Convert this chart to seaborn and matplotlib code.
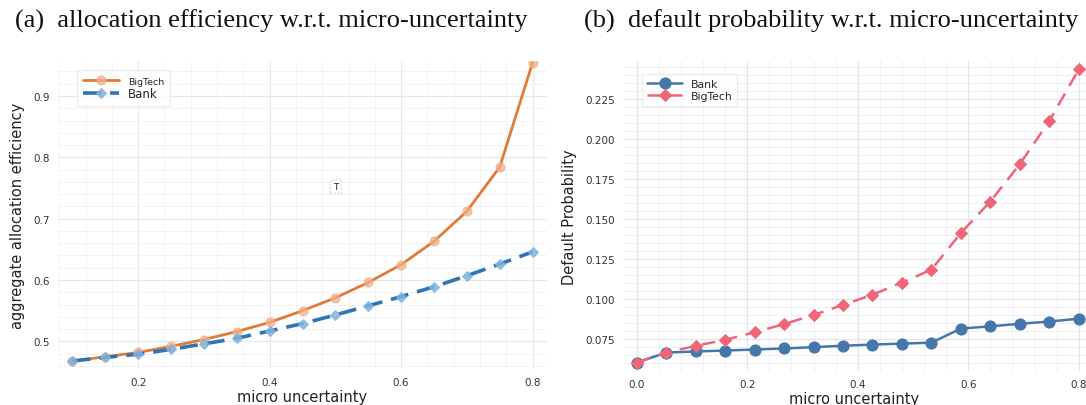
import numpy as np
import pandas as pd
import matplotlib
matplotlib.use("Agg")
import matplotlib.pyplot as plt
from matplotlib.ticker import MultipleLocator, FormatStrFormatter
import seaborn as sns

# ---------------- data ----------------
# (a) allocation efficiency
micro_a = [0.10, 0.15, 0.20, 0.25, 0.30, 0.35, 0.40, 0.45, 0.50, 0.55, 0.60, 0.65, 0.70, 0.75, 0.80]
eff_bigtech = [0.468, 0.475, 0.482, 0.492, 0.503, 0.516, 0.531, 0.550, 0.571, 0.596, 0.625, 0.663, 0.712, 0.784, 0.954]
eff_bank = [0.468, 0.474, 0.479, 0.487, 0.496, 0.505, 0.517, 0.529, 0.543, 0.558, 0.573, 0.589, 0.607, 0.626, 0.646]

# (b) default probability
micro_b = [0.0, 0.0533, 0.1067, 0.16, 0.2133, 0.2667, 0.32, 0.3733, 0.4267, 0.48,
           0.5333, 0.5867, 0.64, 0.6933, 0.7467, 0.80]
dp_bank = [0.0606, 0.0668, 0.0675, 0.0681, 0.0687, 0.0694, 0.0702, 0.0711, 0.0718, 0.0724,
           0.0730, 0.0818, 0.0832, 0.0848, 0.0862, 0.0880]
dp_bigtech = [0.0606, 0.0668, 0.0710, 0.0748, 0.0795, 0.0846, 0.0903, 0.0966, 0.1030, 0.1105,
              0.1186, 0.1415, 0.1612, 0.1845, 0.2115, 0.2437]

titles = ["(a)  allocation efficiency w.r.t. micro-uncertainty",
          "(b)  default probability w.r.t. micro-uncertainty"]

sns.set_theme(style="whitegrid")
plt.rcParams['font.family'] = ['DejaVu Sans']

fig = plt.figure(figsize=(10.86, 4.06), dpi=100)
ax1 = fig.add_axes([58/1086, 1-370/406, (547-58)/1086, (370-62)/406])
ax2 = fig.add_axes([623/1086, 1-372/406, (1086-623)/1086, (372-62)/406])

for ax in (ax1, ax2):
    ax.set_facecolor("white")
    for s in ax.spines.values():
        s.set_visible(False)
    ax.grid(True, which="major", color="#e6e7ea", linewidth=0.8)
    ax.grid(True, which="minor", color="#f3f3f5", linewidth=0.7)
    ax.tick_params(axis="both", which="both", length=0, labelsize=7.5, colors="#333333", pad=6)
    ax.set_axisbelow(True)

# ---- panel (a)
sns.lineplot(x=micro_a, y=eff_bigtech, ax=ax1, color="#e07b39", linewidth=2.0,
             marker="o", markersize=6.5, markerfacecolor=(0.95, 0.68, 0.52, 0.75),
             markeredgecolor=(0.95, 0.68, 0.52, 0.75),
             label="BigTech", zorder=3)
sns.lineplot(x=micro_a, y=eff_bank, ax=ax1, color="#2f74b5", linewidth=2.6,
             linestyle=(0, (5, 2.5)), marker="D", markersize=5,
             markerfacecolor=(0.50, 0.70, 0.87, 0.85), markeredgecolor=(0.50, 0.70, 0.87, 0.85),
             label="Bank", zorder=3)
ax1.set_xlim(0.078, 0.822)
ax1.set_ylim(0.455, 0.957)
ax1.xaxis.set_major_locator(MultipleLocator(0.2))
ax1.xaxis.set_minor_locator(MultipleLocator(0.04))
ax1.yaxis.set_major_locator(MultipleLocator(0.1))
ax1.yaxis.set_minor_locator(MultipleLocator(0.02))
ax1.xaxis.set_major_formatter(FormatStrFormatter("%.1f"))
ax1.yaxis.set_major_formatter(FormatStrFormatter("%.1f"))
ax1.set_xlabel("micro uncertainty", fontsize=10.5, color="#222222", labelpad=1)
ax1.set_ylabel("aggregate allocation efficiency", fontsize=10.5, color="#222222", labelpad=6)
ax1.text(0.5, 0.753, "T", fontsize=6.5, ha="center", va="center", color="#222222",
         bbox=dict(boxstyle="square,pad=0.3", facecolor="white", edgecolor="#f2c6a6",
                   linestyle=":", linewidth=1.0))
leg1 = ax1.legend(loc="upper left", bbox_to_anchor=(0.028, 0.99), frameon=True,
                  fancybox=False, edgecolor="#e6e6e6", handlelength=3.2,
                  borderpad=0.55, labelspacing=0.15, fontsize=8)
leg1.get_frame().set_linewidth(0.8)
leg1.get_texts()[0].set_fontsize(6.8)
leg1.get_texts()[1].set_fontsize(8.5)

# ---- panel (b)
sns.lineplot(x=micro_b, y=dp_bank, ax=ax2, color="#4677aa", linewidth=1.8,
             marker="o", markersize=8, markerfacecolor="#4677aa", markeredgecolor="#4677aa",
             label="Bank", zorder=3)
sns.lineplot(x=micro_b, y=dp_bigtech, ax=ax2, color="#ee6677", linewidth=1.8,
             linestyle=(0, (5.5, 3.5)), marker="D", markersize=6.5,
             markerfacecolor="#ee6677", markeredgecolor="#ee6677",
             label="BigTech", zorder=4)
ax2.set_xlim(-0.0248, 0.8132)
ax2.set_ylim(0.0553, 0.249)
ax2.xaxis.set_major_locator(MultipleLocator(0.2))
ax2.xaxis.set_minor_locator(MultipleLocator(0.04))
ax2.yaxis.set_major_locator(MultipleLocator(0.025))
ax2.yaxis.set_minor_locator(MultipleLocator(0.005))
ax2.xaxis.set_major_formatter(FormatStrFormatter("%.1f"))
ax2.yaxis.set_major_formatter(FormatStrFormatter("%.3f"))
ax2.grid(True, which="major", color="#e3e5ec", linewidth=0.8)
ax2.grid(True, which="minor", color="#eff0f4", linewidth=0.7)
ax2.set_xlabel("micro uncertainty", fontsize=10.5, color="#222222", labelpad=1)
ax2.set_ylabel("Default Probability", fontsize=10.5, color="#222222", labelpad=6)
leg2 = ax2.legend(loc="upper left", bbox_to_anchor=(0.03, 0.975), frameon=True,
                  fancybox=False, edgecolor="#e6e6e6", handlelength=3.2,
                  borderpad=0.45, labelspacing=0.2, fontsize=7.8)
leg2.get_frame().set_linewidth(0.8)

# titles
fig.text(271/1086, 1-21/406, titles[0], ha="center", va="center",
         fontsize=19, family=["Liberation Serif"], color="#111111")
fig.text(831/1086, 1-21/406, titles[1], ha="center", va="center",
         fontsize=19, family=["Liberation Serif"], color="#111111")

fig.savefig("out.png", dpi=100)
